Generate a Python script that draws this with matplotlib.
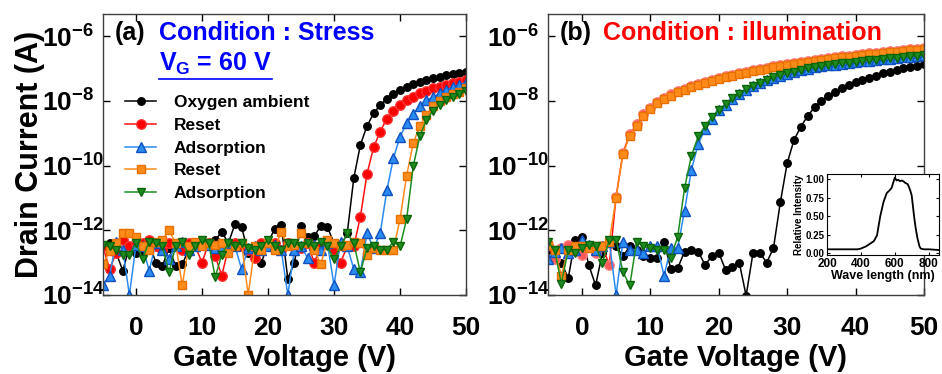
import matplotlib
matplotlib.use('Agg')
import matplotlib.pyplot as plt
import numpy as np
from matplotlib.lines import Line2D

plt.rcParams['font.family'] = ['Liberation Sans', 'DejaVu Sans']
plt.rcParams['font.weight'] = 'bold'
plt.rcParams['mathtext.fontset'] = 'custom'
plt.rcParams['mathtext.rm'] = 'Liberation Sans:bold'
plt.rcParams['mathtext.it'] = 'Liberation Sans:bold'
plt.rcParams['mathtext.bf'] = 'Liberation Sans:bold'

# gate voltage sweep (V)
vg = np.arange(-5, 51)

# log10 of drain current, panel (a) : stress V_G = 60 V
a_oxygen = [-12.5, -12.4, -12.7, -13.25, -12.5,
            -12.7, -12.7, -12.4, -13.0, -13.1, -12.55, -13.1, -13.05, -12.6, -12.45,
            -12.5, -12.4, -12.3, -12.05, -12.4, -11.8, -11.9, -12.7, -12.6, -13.0,
            -12.4, -11.95, -11.83, -13.5, -13.0, -11.86, -12.2, -12.19, -11.86, -11.9,
            -12.4, -12.5, -12.1, -10.39, -9.36, -8.78, -8.39, -8.13, -7.94, -7.79,
            -7.67, -7.56, -7.48, -7.42, -7.36, -7.31, -7.26, -7.21, -7.17, -7.14,
            -7.11]
a_reset1 = [-12.5, -13.2, -12.7, -12.3, -12.5,
            -12.4, -12.4, -12.3, -12.5, -12.6, -12.4, -12.5, -12.6, -12.4, -12.5,
            -13.0, -12.4, -12.8, -13.4, -12.55, -12.4, -12.5, -12.6, -12.85, -12.4,
            -12.5, -12.4, -12.6, -12.4, -12.5, -12.55, -12.4, -13.0, -12.5, -12.4,
            -12.6, -13.0, -12.5, -12.5, -11.58, -10.26, -9.44, -8.95, -8.56, -8.31,
            -8.13, -7.98, -7.87, -7.77, -7.70, -7.62, -7.56, -7.51, -7.46, -7.41,
            -7.36]
a_ads1 = [-13.7, -13.4, -12.35, -12.6, -14.0,
          -12.45, -12.5, -13.25, -12.4, -12.6, -12.9, -12.5, -12.35, -12.6, -12.5,
          -12.4, -12.45, -12.55, -12.5, -12.4, -12.5, -13.2, -12.55, -12.5, -12.6,
          -12.5, -12.45, -12.6, -14.0, -12.6, -12.5, -12.85, -12.45, -12.6, -12.4,
          -13.7, -12.35, -12.5, -13.2, -13.3, -12.1, -12.55, -12.1, -10.77, -9.78,
          -9.11, -8.70, -8.41, -8.16, -7.98, -7.89, -7.77, -7.67, -7.58, -7.51,
          -7.44]
a_reset2 = [-13.05, -12.65, -12.4, -12.1, -12.1,
            -12.2, -12.5, -12.6, -12.35, -12.3, -12.0, -12.4, -13.7, -12.5, -12.35,
            -12.5, -12.4, -12.45, -12.4, -12.7, -12.5, -12.4, -14.0, -12.5, -12.6,
            -12.4, -12.6, -12.05, -12.5, -12.45, -12.1, -12.4, -12.6, -13.05, -12.3,
            -12.4, -12.5, -12.45, -12.35, -12.4, -12.75, -12.55, -12.6, -12.6, -12.6,
            -11.66, -10.32, -9.31, -8.78, -8.44, -8.16, -8.01, -7.89, -7.79, -7.72,
            -7.62]
a_ads2 = [-12.45, -12.5, -12.6, -12.75, -12.75,
          -12.4, -12.88, -12.35, -12.4, -12.5, -13.3, -12.5, -12.35, -12.75, -12.5,
          -12.3, -12.4, -13.45, -12.75, -12.4, -12.5, -12.4, -12.55, -12.6, -12.5,
          -12.3, -12.5, -12.6, -12.4, -12.4, -12.5, -12.4, -12.5, -12.35, -12.5,
          -12.9, -12.5, -12.1, -12.4, -13.3, -12.55, -12.5, -12.6, -12.6, -12.35,
          -12.5, -11.66, -10.03, -9.09, -8.59, -8.31, -8.13, -7.98, -7.89, -7.79,
          -7.70]

# panel (b) : illumination
b_oxygen = [-12.6, -12.7, -13.0, -13.48, -12.3,
            -12.2, -13.07, -13.7, -12.7, -12.3, -12.5, -12.8, -12.5, -12.6, -12.8,
            -12.85, -12.85, -12.35, -13.2, -13.17, -12.66, -12.6, -12.66, -13.07, -12.8,
            -12.7, -13.22, -13.12, -13.0, -14.02, -12.71, -12.69, -13.0, -12.55, -11.14,
            -9.93, -9.21, -8.8, -8.47, -8.2, -8.0, -7.84, -7.72, -7.61, -7.51,
            -7.43, -7.36, -7.29, -7.22, -7.15, -7.1, -7.05, -7.0, -6.97, -6.93,
            -6.87]
b_reset1 = [-12.45, -12.9, -12.55, -12.45, -12.6,
            -12.76, -12.5, -12.7, -12.5, -13.07, -10.96, -9.6, -9.04, -8.73, -8.42,
            -8.21, -8.04, -7.9, -7.8, -7.7, -7.63, -7.55, -7.48, -7.42, -7.36,
            -7.29, -7.24, -7.19, -7.14, -7.1, -7.06, -7.02, -6.98, -6.94, -6.9,
            -6.87, -6.84, -6.81, -6.78, -6.75, -6.72, -6.69, -6.66, -6.63, -6.61,
            -6.58, -6.56, -6.54, -6.52, -6.49, -6.47, -6.45, -6.43, -6.41, -6.39,
            -6.36]
b_ads1 = [-12.9, -12.66, -12.55, -12.7, -12.6,
          -12.3, -12.45, -12.6, -12.5, -12.35, -14.0, -12.35, -12.6, -12.6, -12.7,
          -12.5, -12.5, -13.4, -12.55, -12.55, -11.39, -10.14, -9.33, -8.88, -8.55,
          -8.3, -8.12, -7.95, -7.8, -7.67, -7.55, -7.45, -7.37, -7.29, -7.22,
          -7.16, -7.11, -7.06, -7.01, -6.97, -6.94, -6.91, -6.88, -6.85, -6.83,
          -6.81, -6.78, -6.76, -6.74, -6.72, -6.7, -6.68, -6.66, -6.64, -6.62,
          -6.6]
b_reset2 = [-12.45, -12.6, -13.4, -12.6, -12.5,
            -12.5, -12.55, -12.5, -12.5, -12.35, -11.0, -9.64, -9.08, -8.77, -8.46,
            -8.25, -8.08, -7.94, -7.84, -7.74, -7.66, -7.58, -7.51, -7.45, -7.39,
            -7.32, -7.27, -7.22, -7.17, -7.13, -7.09, -7.05, -7.01, -6.97, -6.93,
            -6.9, -6.87, -6.84, -6.81, -6.78, -6.75, -6.72, -6.69, -6.66, -6.64,
            -6.61, -6.59, -6.57, -6.55, -6.52, -6.5, -6.48, -6.46, -6.44, -6.42,
            -6.39]
b_ads2 = [-12.35, -12.6, -13.65, -12.6, -12.7,
          -12.55, -12.45, -12.5, -13.0, -12.3, -12.3, -13.3, -13.7, -12.35, -12.5,
          -12.55, -12.6, -12.6, -12.85, -12.2, -10.7, -9.7, -9.1, -8.78, -8.51,
          -8.28, -8.1, -7.93, -7.78, -7.65, -7.53, -7.44, -7.36, -7.28, -7.21,
          -7.15, -7.1, -7.05, -7.0, -6.96, -6.93, -6.9, -6.87, -6.84, -6.82,
          -6.8, -6.77, -6.75, -6.73, -6.71, -6.69, -6.67, -6.65, -6.63, -6.61,
          -6.59]

labels = ['Oxygen ambient', 'Reset', 'Adsorption', 'Reset', 'Adsorption']

# inset : lamp spectrum
wavelength = [200, 250, 300, 350, 380, 400, 430, 450, 476, 495,
              505, 514, 533, 552, 570, 581, 590, 600, 610, 620,
              630, 640, 650, 660, 676, 690, 699, 707, 714, 723,
              733, 745, 752, 771, 800, 860]
intensity = [0.05, 0.05, 0.05, 0.05, 0.05, 0.06, 0.09, 0.12, 0.16, 0.24,
             0.38, 0.5, 0.69, 0.81, 0.85, 0.88, 0.95, 1.02, 0.98, 0.99,
             0.97, 0.98, 0.97, 0.95, 0.93, 0.85, 0.78, 0.62, 0.48, 0.33,
             0.2, 0.09, 0.06, 0.05, 0.05, 0.04]

exps = [-14, -12, -10, -8, -6]

styles = [
    dict(color='black', marker='o', ms=5.4, mfc='black', mec='black'),
    dict(color='#ff1010', marker='o', ms=6.8, mfc='#ff0000', mec='#ff3030'),
    dict(color='#2a8cf0', marker='^', ms=7.0, mfc='#2a8cf0', mec='#1050c0'),
    dict(color='#ff8c1a', marker='s', ms=5.2, mfc='#ff8c1a', mec='#e87000'),
    dict(color='#1e8c1e', marker='v', ms=6.3, mfc='#1e8c1e', mec='#0a640a'),
]

fig = plt.figure(figsize=(9.42, 3.74), dpi=100)
ax1 = fig.add_axes([103/942, 79/374, 363/942, 281/374])
ax2 = fig.add_axes([547.7/942, 79/374, 376.3/942, 281/374])


def style_axes(ax):
    ax.set_yscale('log')
    ax.set_xlim(-5, 50)
    ax.set_ylim(1e-14, 10**-5.32)
    ax.set_xticks([0, 10, 20, 30, 40, 50])
    ax.set_yticks([10.0**e for e in exps], labels=[r'$10^{%d}$' % e for e in exps])
    ax.yaxis.set_minor_locator(matplotlib.ticker.NullLocator())
    ax.tick_params(axis='both', which='major', direction='in', length=5, width=1,
                   top=True, right=True, labelsize=19)
    ax.tick_params(axis='x', pad=15)
    ax.tick_params(axis='y', pad=44)
    for lab in ax.get_yticklabels():
        lab.set_horizontalalignment('left')
    for s in ax.spines.values():
        s.set_color('#404040')
        s.set_linewidth(1)
    ax.set_xlabel('Gate Voltage (V)', fontsize=21, fontweight='bold', labelpad=3)


series_a = [a_oxygen, a_reset1, a_ads1, a_reset2, a_ads2]
for vals, st, lab in zip(series_a, styles, labels):
    ax1.plot(vg, 10.0**np.array(vals), lw=1.1, label=lab, **st)
style_axes(ax1)
ax1.set_ylabel('Drain Current (A)', fontsize=22, fontweight='bold', labelpad=-2)

ax1.legend(loc='upper left', bbox_to_anchor=(0.061, 0.711), frameon=False,
           fontsize=12.5, handlelength=1.8, handletextpad=1.0, labelspacing=0.43,
           borderpad=0, borderaxespad=0)

ax1.text(0.033, 0.932, '(a)', transform=ax1.transAxes, fontsize=18,
         fontweight='bold', va='center', ha='left')
ax1.text(0.154, 0.932, 'Condition : Stress', transform=ax1.transAxes, fontsize=18,
         fontweight='bold', color='#0000ff', va='center', ha='left')
vg_txt = ax1.text(0.154, 0.797, r'$V_G$ = 60 V', transform=ax1.transAxes, fontsize=18,
                  fontweight='bold', color='#0000ff', va='baseline', ha='left')

series_b = [b_oxygen, b_reset1, b_ads1, b_reset2, b_ads2]
styles_b = [dict(st) for st in styles]
styles_b[1].update(mfc='#ff5a5a', mec='#ff8080', ms=6.8)
for vals, st in zip(series_b, styles_b):
    ax2.plot(vg, 10.0**np.array(vals), lw=1.1, **st)
style_axes(ax2)

ax2.text(0.033, 0.932, '(b)', transform=ax2.transAxes, fontsize=18,
         fontweight='bold', va='center', ha='left')
ax2.text(0.147, 0.932, 'Condition : illumination', transform=ax2.transAxes,
         fontsize=18, fontweight='bold', color='#ff0000', va='center', ha='left')

# inset spectrum
axi = fig.add_axes([827/942, 119/374, 112/942, 81/374])
axi.plot(wavelength, intensity, color='black', lw=1.3)
axi.set_xlim(200, 860)
axi.set_ylim(-0.027, 1.068)
axi.set_xticks([200, 400, 600, 800])
axi.set_yticks([0, 0.25, 0.5, 0.75, 1.0], labels=['0.00', '0.25', '0.50', '0.75', '1.00'])
axi.tick_params(axis='x', labelsize=8.5, direction='in', length=2.5, top=True, pad=2)
axi.tick_params(axis='y', labelsize=7, direction='in', length=2.5, right=True, pad=2)
axi.set_xlabel('Wave length (nm)', fontsize=9, fontweight='bold', labelpad=0)
axi.set_ylabel('Relative Intensity', fontsize=7, fontweight='bold', labelpad=1)
for s in axi.spines.values():
    s.set_linewidth(0.8)

# underline under V_G = 60 V
fig.canvas.draw()
bb = vg_txt.get_window_extent().transformed(fig.transFigure.inverted())
fig.add_artist(Line2D([bb.x0, bb.x1], [bb.y0 - 0.004, bb.y0 - 0.004],
                      transform=fig.transFigure, color='#0000ff', lw=1.2))

fig.savefig('out.png', dpi=100)
